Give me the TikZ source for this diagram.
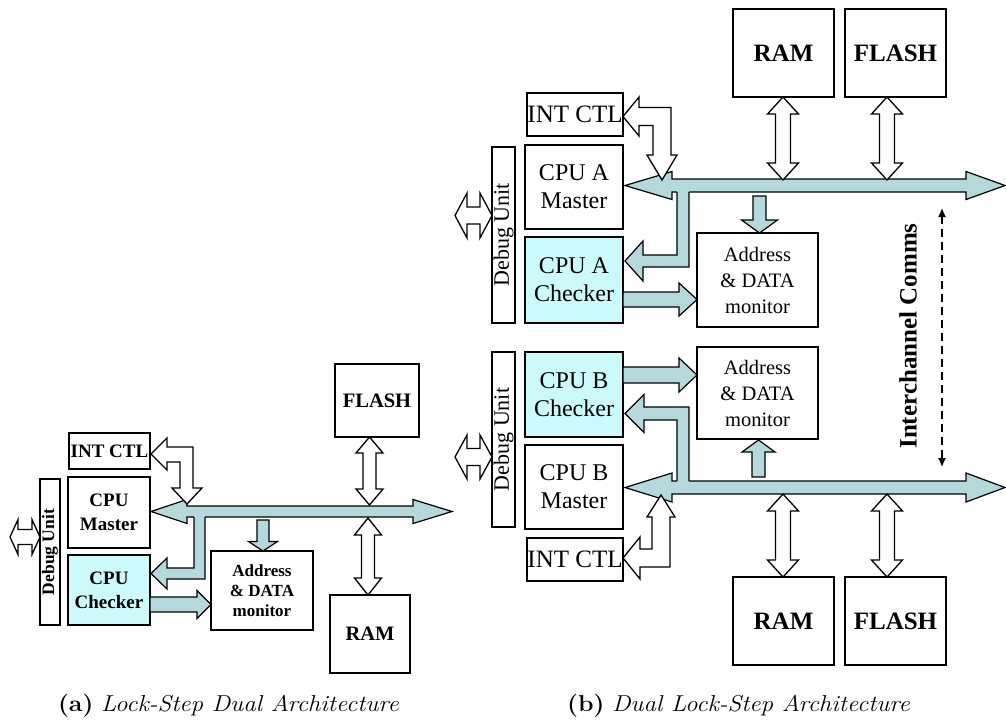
\documentclass[tikz,border=0pt]{standalone}
\usepackage{fontspec}
\usepackage{graphicx}
\newfontfamily\tnr{Liberation Serif}
\usetikzlibrary{arrows.meta}
\definecolor{busfill}{RGB}{180,216,220}
\definecolor{chkfill}{RGB}{204,250,252}
% box: name, x1, y1, x2, y2, style, text
\newcommand\bx[7]{\node[#6, minimum width={(#4)-(#2)}, minimum height={(#5)-(#3)}] (#1) at ({((#2)+(#4))/2},{((#3)+(#5))/2}) {#7};}
% horizontal double arrow: style, x1, x2, y, w, H, L1, L2
\newcommand\hdbl[8]{\draw[#1] (#2,#4) -- ({#2+#7},{#4-#6}) -- ({#2+#7},{#4-#5}) -- ({#3-#8},{#4-#5}) -- ({#3-#8},{#4-#6}) -- (#3,#4) -- ({#3-#8},{#4+#6}) -- ({#3-#8},{#4+#5}) -- ({#2+#7},{#4+#5}) -- ({#2+#7},{#4+#6}) -- cycle;}
% vertical double arrow: style, x, y1, y2, w, H, L
\newcommand\vdbl[7]{\draw[#1] (#2,#3) -- ({#2+#6},{#3+#7}) -- ({#2+#5},{#3+#7}) -- ({#2+#5},{#4-#7}) -- ({#2+#6},{#4-#7}) -- (#2,#4) -- ({#2-#6},{#4-#7}) -- ({#2-#5},{#4-#7}) -- ({#2-#5},{#3+#7}) -- ({#2-#6},{#3+#7}) -- cycle;}
% horizontal single arrow: style, xtail, xtip, y, w, H, L(signed)
\newcommand\harr[7]{\draw[#1] (#2,{#4-#5}) -- ({#3-#7},{#4-#5}) -- ({#3-#7},{#4-#6}) -- (#3,#4) -- ({#3-#7},{#4+#6}) -- ({#3-#7},{#4+#5}) -- (#2,{#4+#5}) -- cycle;}
% vertical single arrow: style, x, ytail, ytip, w, H, L(signed)
\newcommand\varr[7]{\draw[#1] ({#2-#5},#3) -- ({#2-#5},{#4-#7}) -- ({#2-#6},{#4-#7}) -- (#2,#4) -- ({#2+#6},{#4-#7}) -- ({#2+#5},{#4-#7}) -- ({#2+#5},#3) -- cycle;}
\tikzset{
  bxL/.style={draw, line width=1.4pt, fill=white, inner sep=0pt, align=center, font=\tnr\bfseries\fontsize{19}{24}\selectfont},
  bxR/.style={draw, line width=1.6pt, fill=white, inner sep=0pt, align=center, font=\tnr\fontsize{24}{28}\selectfont},
  chk/.style={fill=chkfill},
  busarr/.style={draw=black, line width=1.2pt, fill=busfill, line join=miter},
  busfillonly/.style={fill=busfill},
  busline/.style={draw=black, line width=1.2pt, line join=miter},
  whitearr/.style={draw=black, line width=1.3pt, fill=white, line join=miter},
  rotlbl/.style={rotate=90, inner sep=0pt},
  captxt/.style={anchor=base, inner sep=0pt, font=\fontsize{23}{27}\selectfont},
}
\begin{document}
\begin{tikzpicture}[x=1pt,y=-1pt]
\useasboundingbox (0,0) rectangle (1006,721);

%================ (a) Lock-Step Dual Architecture =================
\bx{intL}{69}{433}{150}{469}{bxL}{INT CTL}
\bx{dbgL}{40}{479}{60}{625}{bxL}{}
\node[rotlbl, font=\tnr\bfseries\fontsize{17.5}{20}\selectfont] (dbgLt) at (dbgL) {Debug Unit};
\bx{cmL}{68}{477}{150}{548}{bxL}{CPU\\Master}
\bx{ccL}{68}{555}{150}{625}{bxL,chk}{CPU\\Checker}
\bx{monL}{211}{551}{313}{630}{bxL,font=\tnr\bfseries\fontsize{17}{20}\selectfont}{Address\\\& DATA\\monitor}
\bx{flashL}{335}{364}{419}{437}{bxL,font=\tnr\bfseries\fontsize{20.5}{24}\selectfont}{FLASH}
\bx{ramL}{330}{595}{410}{673}{bxL,font=\tnr\bfseries\fontsize{20.5}{24}\selectfont}{RAM}

% bus
\hdbl{busarr}{151}{452}{511.5}{5.5}{12}{36}{39}
% bus -> checker (L shape)
\fill[busfillonly] (194,511) -- (205,511) -- (205,579) -- (167,579) -- (167,589) -- (151,573.5) -- (167,558) -- (167,568) -- (194,568) -- cycle;
\draw[busline] (205,517) -- (205,579) -- (167,579) -- (167,589) -- (151,573.5) -- (167,558) -- (167,568) -- (194,568) -- (194,517);
% bus -> monitor
\varr{busarr}{263}{520}{551}{6}{14.5}{9.5}
% checker -> monitor
\harr{busarr}{150}{211}{604.5}{7.5}{14}{14}
% INT CTL <-> bus
\draw[whitearr] (151,454) -- (167,438) -- (167,447) -- (193,447) -- (193,488) -- (202,488) -- (187,504) -- (172,488) -- (180,488) -- (180,462) -- (167,462) -- (167,470) -- cycle;
% memories
\vdbl{whitearr}{369.5}{437}{505}{6.5}{13.5}{16}
\vdbl{whitearr}{368}{518}{595}{6.5}{13.5}{17}
% debug port
\hdbl{whitearr}{10}{40}{537}{7.5}{17.5}{8}{8}

%================ (b) Dual Lock-Step Architecture =================
\bx{ramA}{733}{9}{834}{97}{bxR,font=\tnr\bfseries\fontsize{25}{28}\selectfont}{RAM}
\bx{flashA}{845}{9}{946}{97}{bxR,font=\tnr\bfseries\fontsize{25}{28}\selectfont}{FLASH}
\bx{intA}{527}{93}{623}{136}{bxR,font=\tnr\fontsize{25}{28}\selectfont}{INT CTL}
\bx{dbgA}{492}{147}{515}{323}{bxR}{}
\node[rotlbl, font=\tnr\fontsize{22}{24}\selectfont] (dbgAt) at (dbgA) {Debug Unit};
\bx{cmA}{525}{145}{623}{229}{bxR}{CPU A\\Master}
\bx{ccA}{525}{237}{623}{323}{bxR,chk}{CPU A\\Checker}
\bx{monA}{697}{233}{818}{327}{bxR,font=\tnr\fontsize{20.5}{26}\selectfont}{Address\\\& DATA\\monitor}

\bx{monB}{697}{347}{818}{439}{bxR,font=\tnr\fontsize{20.5}{26}\selectfont}{Address\\\& DATA\\monitor}
\bx{ccB}{525}{352}{623}{437}{bxR,chk}{CPU B\\Checker}
\bx{cmB}{525}{445}{623}{529}{bxR}{CPU B\\Master}
\bx{dbgB}{492}{352}{515}{527}{bxR}{}
\node[rotlbl, font=\tnr\fontsize{22}{24}\selectfont] (dbgBt) at (dbgB) {Debug Unit};
\bx{intB}{527}{538}{623}{581}{bxR,font=\tnr\fontsize{25}{28}\selectfont}{INT CTL}
\bx{ramB}{733}{577}{834}{665}{bxR,font=\tnr\bfseries\fontsize{25}{28}\selectfont}{RAM}
\bx{flashB}{845}{577}{946}{665}{bxR,font=\tnr\bfseries\fontsize{25}{28}\selectfont}{FLASH}

% buses
\hdbl{busarr}{625}{1005}{185.5}{6.5}{14}{47}{39}
\hdbl{busarr}{625}{1005}{487.5}{6.5}{14.5}{47}{39}

% bus A -> checker A
\fill[busfillonly] (677,186) -- (689,186) -- (689,267) -- (643,267) -- (643,281) -- (625,261) -- (643,241) -- (643,255) -- (677,255) -- cycle;
\draw[busline] (689,192) -- (689,267) -- (643,267) -- (643,281) -- (625,261) -- (643,241) -- (643,255) -- (677,255) -- (677,192);
% bus B -> checker B
\fill[busfillonly] (677,487) -- (689,487) -- (689,407) -- (644,407) -- (644,394.5) -- (625,413.5) -- (644,432.5) -- (644,420) -- (677,420) -- cycle;
\draw[busline] (689,481) -- (689,407) -- (644,407) -- (644,394.5) -- (625,413.5) -- (644,432.5) -- (644,420) -- (677,420) -- (677,481);

% bus -> monitors
\varr{busarr}{759.5}{196}{233}{6.5}{18}{13}
\varr{busarr}{758.5}{477}{440}{6.5}{16.5}{-12}
% checkers -> monitors
\harr{busarr}{623}{697}{299.5}{7.5}{16.5}{18}
\harr{busarr}{623}{697}{375}{8}{17}{18}

% INT CTL <-> buses
\draw[whitearr] (623,116.5) -- (639,97) -- (639,107.5) -- (671,107.5) -- (671,155) -- (677,155) -- (662,180) -- (647,155) -- (653,155) -- (653,125.5) -- (639,125.5) -- (639,136) -- cycle;
\draw[whitearr] (623,558) -- (640,537) -- (640,549) -- (652,549) -- (652,517) -- (647,517) -- (661,495) -- (675,517) -- (670,517) -- (670,567) -- (640,567) -- (640,579) -- cycle;

% memories
\vdbl{whitearr}{783}{97}{180}{7.5}{15.5}{17}
\vdbl{whitearr}{887}{97}{180}{7.5}{15.5}{17}
\vdbl{whitearr}{783}{494}{577}{7.5}{15.5}{17}
\vdbl{whitearr}{887}{494}{577}{7.5}{15.5}{17}

% debug ports
\hdbl{whitearr}{455}{492}{215.5}{8.5}{22.5}{12}{12}
\hdbl{whitearr}{455}{492}{457}{8.5}{22}{12}{12}

% interchannel comms
\node[rotlbl, font=\tnr\bfseries\fontsize{25}{28}\selectfont] (ict) at (908,336) {Interchannel Comms};
\coordinate (icTop) at (942,208);
\coordinate (icBot) at (942,467);
\draw[line width=1.4pt, dash pattern=on 8pt off 5pt, {Latex[length=9pt,width=8pt]}-{Latex[length=9pt,width=8pt]}] (icTop) -- (icBot);

% captions
\node[captxt] (capA) at (228.5,711) {\scalebox{1.085}[1]{\textbf{(a)} \textit{Lock-Step Dual Architecture}}};
\node[captxt] (capB) at (738.5,711) {\scalebox{1.085}[1]{\textbf{(b)} \textit{Dual Lock-Step Architecture}}};
\end{tikzpicture}
\end{document}
